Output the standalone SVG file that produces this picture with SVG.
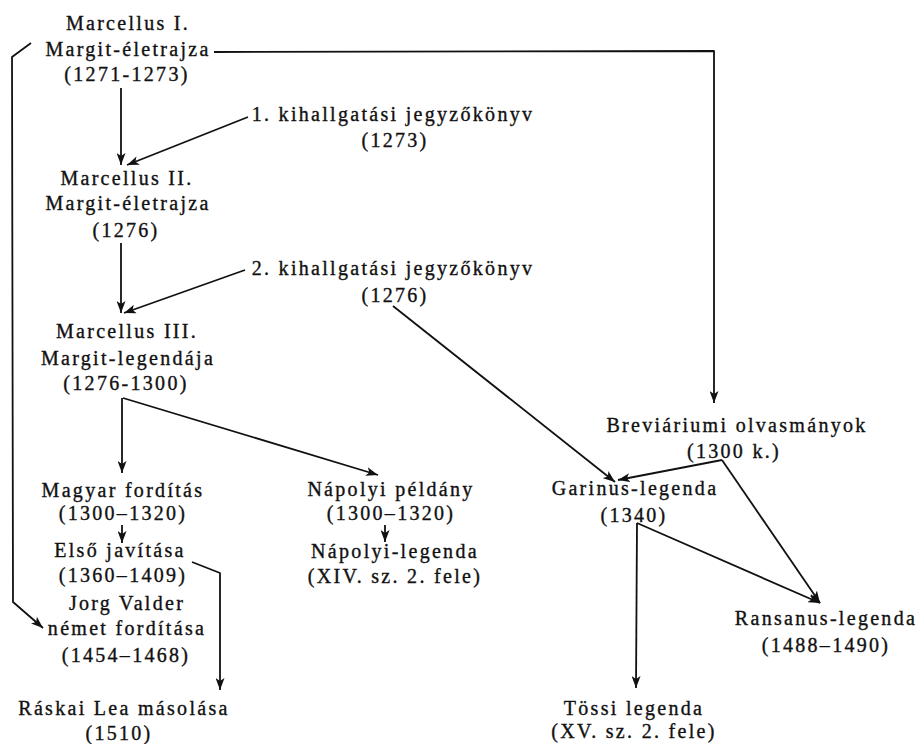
<svg xmlns="http://www.w3.org/2000/svg" width="923" height="744" viewBox="0 0 923 744">
<style>
.t{font-family:"Liberation Serif","DejaVu Serif",serif;font-size:20px;letter-spacing:2.3px;text-anchor:middle;fill:#111;stroke:#111;stroke-width:0.35px}
.c{fill:none;stroke:#111;stroke-width:1.8;stroke-linejoin:round}
.a{marker-end:url(#ah)}
</style>
<defs>
<marker id="ah" markerUnits="userSpaceOnUse" markerWidth="13" markerHeight="9" refX="12" refY="4.5" orient="auto">
<path d="M0,0 L12,4.5 L0,9 L3,4.5 z" fill="#111"/>
</marker>
</defs>
<rect width="923" height="744" fill="#fff"/>
<g id="connectors">
<path class="c a" d="M121,88 L121,165"/>
<path class="c a" d="M248,117 L127,165"/>
<path class="c a" d="M214,52 L714,51 L714,403"/>
<path class="c a" d="M31,43 L12,57 L13,602 L43,628"/>
<path class="c a" d="M121,243 L121,313"/>
<path class="c a" d="M245,270 L124,313"/>
<path class="c a" d="M393,306 L615,482"/>
<path class="c a" d="M122,398 L122,473"/>
<path class="c a" d="M123,398 L378,475"/>
<path class="c a" d="M722,460 L618,480"/>
<path class="c a" d="M722,460 L820,603"/>
<path class="c a" d="M637,523 L820,603"/>
<path class="c a" d="M637,523 L636,688"/>
<path class="c a" d="M122,525 L122,543"/>
<path class="c a" d="M385,525 L385,542"/>
<path class="c a" d="M192,562 L220,573 L220,690"/>
</g>
<g id="n1"><text class="t" x="128" y="30">Marcellus I.</text><text class="t" x="128" y="56">Margit-életrajza</text><text class="t" x="127" y="81">(1271-1273)</text></g>
<g id="n2"><text class="t" x="393" y="121">1. kihallgatási jegyzőkönyv</text><text class="t" x="395" y="147">(1273)</text></g>
<g id="n3"><text class="t" x="127" y="185">Marcellus II.</text><text class="t" x="128" y="210">Margit-életrajza</text><text class="t" x="126" y="237">(1276)</text></g>
<g id="n4"><text class="t" x="393" y="275">2. kihallgatási jegyzőkönyv</text><text class="t" x="395" y="302">(1276)</text></g>
<g id="n5"><text class="t" x="127" y="338">Marcellus III.</text><text class="t" x="128" y="365">Margit-legendája</text><text class="t" x="126" y="390">(1276-1300)</text></g>
<g id="n6"><text class="t" x="737" y="432">Breviáriumi olvasmányok</text><text class="t" x="734" y="458">(1300 k.)</text></g>
<g id="n7"><text class="t" x="123" y="497">Magyar fordítás</text><text class="t" x="123" y="520">(1300–1320)</text></g>
<g id="n8"><text class="t" x="391" y="496">Nápolyi példány</text><text class="t" x="391" y="520">(1300–1320)</text></g>
<g id="n9"><text class="t" x="635" y="495">Garinus-legenda</text><text class="t" x="634" y="522">(1340)</text></g>
<g id="n10"><text class="t" x="120" y="557">Első javítása</text><text class="t" x="123" y="582">(1360–1409)</text></g>
<g id="n11"><text class="t" x="395" y="558">Nápolyi-legenda</text><text class="t" x="395" y="583">(XIV. sz. 2. fele)</text></g>
<g id="n12"><text class="t" x="127" y="610">Jorg Valder</text><text class="t" x="127" y="635">német fordítása</text><text class="t" x="126" y="662">(1454–1468)</text></g>
<g id="n13"><text class="t" x="826" y="625">Ransanus-legenda</text><text class="t" x="826" y="652">(1488–1490)</text></g>
<g id="n14"><text class="t" x="124" y="715">Ráskai Lea másolása</text><text class="t" x="119" y="740">(1510)</text></g>
<g id="n15"><text class="t" x="634" y="715">Tössi legenda</text><text class="t" x="634" y="738">(XV. sz. 2. fele)</text></g>
</svg>
